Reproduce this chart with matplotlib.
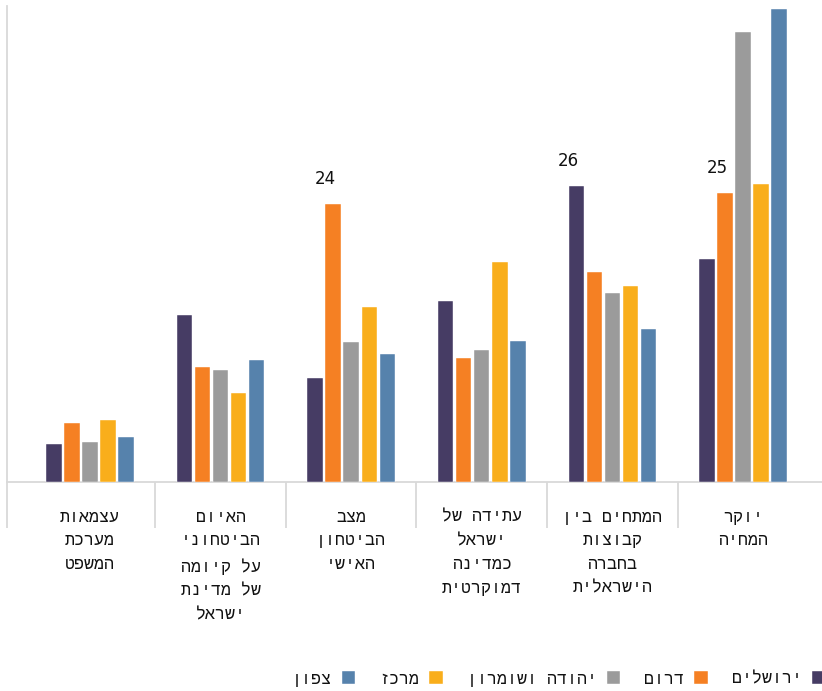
import matplotlib
matplotlib.use("Agg")
import matplotlib.pyplot as plt
import numpy as np

# ---- data ----
categories = [
    "עצמאות\nמערכת\nהמשפט",
    "האיום\nהביטחוני\nעל קיומה\nשל מדינת\nישראל",
    "מצב\nהביטחון\nהאישי",
    "עתידה של\nישראל\nכמדינה\nדמוקרטית",
    "המתחים בין\nקבוצות\nבחברה\nהישראלית",
    "יוקר\nהמחיה",
]
series_names = ["ירושלים", "דרום", "יהודה ושומרון", "מרכז", "צפון"]
jerusalem = [3.3, 14.5, 9.0, 15.7, 25.7, 19.4]
south = [5.1, 10.0, 24.2, 10.8, 18.3, 25.1]
judea_samaria = [3.5, 9.7, 12.2, 11.5, 16.4, 39.1]
center = [5.4, 7.7, 15.2, 19.1, 17.0, 25.9]
north = [3.9, 10.6, 11.1, 12.3, 13.3, 41.1]
# (category index, series index) of bars that carry a value label
labelled_bars = [(2, 1), (4, 0), (5, 1)]

series_values = [jerusalem, south, judea_samaria, center, north]
colors = ["#463C64", "#F58023", "#9B9B9B", "#F9AE1B", "#5682AC"]


def rtl(s):
    """Visual order for right-to-left text (line by line)."""
    return "\n".join(line[::-1] for line in s.split("\n"))


plt.rcParams["font.family"] = ["DejaVu Sans"]
HEB = ["Liberation Mono", "DejaVu Sans"]

fig = plt.figure(figsize=(8.22, 6.91), dpi=100)
ax = fig.add_axes([7 / 822, 1 - 482 / 691, 815 / 822, 476 / 691])

x = np.arange(len(categories))
pitch = 0.138
width = 0.118
bars = []
for i, (vals, col) in enumerate(zip(series_values, colors)):
    b = ax.bar(x + (i - 2) * pitch, vals, width=width, color=col,
               edgecolor="white", linewidth=0.3, label=rtl(series_names[i]),
               zorder=3)
    bars.append(b)

for ci, si in labelled_bars:
    rect = bars[si][ci]
    v = series_values[si][ci]
    ax.annotate(f"{v:.0f}", xy=(rect.get_x() + rect.get_width() / 2, v),
                xytext=(-8, 16), textcoords="offset pixels",
                ha="center", va="bottom", fontsize=12, color="#111111")

x0, x1 = -0.6355, 5.605
ax.set_xlim(x0, x1)
ax.set_ylim(0, 41.39)

for s in ["top", "right"]:
    ax.spines[s].set_visible(False)
for s in ["left", "bottom"]:
    ax.spines[s].set_color("#D9D9D9")
    ax.spines[s].set_linewidth(1.3)

ax.set_yticks([])
ax.set_xticks(x, labels=[rtl(c) for c in categories])
ax.tick_params(axis="x", which="major", length=0, pad=20, labelsize=12,
               labelcolor="#111111")
for t in ax.get_xticklabels():
    t.set_linespacing(1.72)
    t.set_fontfamily(HEB)
ax.set_xticks([x0] + list(np.arange(len(categories) - 1) + 0.5), minor=True)
ax.tick_params(axis="x", which="minor", length=33, width=1.3, color="#D9D9D9")

handles, labels = ax.get_legend_handles_labels()
leg = fig.legend(handles[::-1], labels[::-1], ncol=5, frameon=False,
                 loc="center right", bbox_to_anchor=(1.004, 1 - 679 / 691),
                 markerfirst=False, prop={"family": HEB, "size": 12},
                 handlelength=0.8,
                 handleheight=0.8, handletextpad=0.6, columnspacing=1.45,
                 borderpad=0, borderaxespad=0)
for t in leg.get_texts():
    t.set_color("#111111")

fig.savefig("out.png", dpi=100, facecolor="white")
